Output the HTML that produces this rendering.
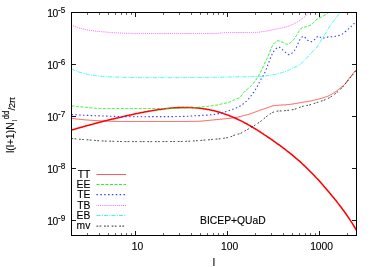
<!DOCTYPE html>
<html><head><meta charset="utf-8"><title>plot</title>
<style>html,body{margin:0;padding:0;background:#fff;width:374px;height:267px;overflow:hidden;font-family:"Liberation Sans",sans-serif}</style></head>
<body>
<svg width="374" height="267" viewBox="0 0 374 267" style="position:absolute;left:0;top:0;will-change:transform">
<rect width="374" height="267" fill="#fff"/>
<clipPath id="c"><rect x="71" y="12" width="286" height="224"/></clipPath>
<g fill="none" clip-path="url(#c)" stroke-linejoin="round">
<path d="M71.5,130.1 L72.5,129.8 L73.5,129.5 L74.5,129.2 L75.5,128.9 L76.5,128.6 L77.5,128.3 L78.5,128.1 L79.5,127.8 L80.5,127.5 L81.5,127.2 L82.5,126.9 L83.5,126.6 L84.5,126.4 L85.5,126.1 L86.5,125.8 L87.5,125.5 L88.5,125.3 L89.5,125.0 L90.5,124.7 L91.5,124.4 L92.5,124.2 L93.5,123.9 L94.5,123.6 L95.5,123.4 L96.5,123.1 L97.5,122.9 L98.5,122.6 L99.5,122.3 L100.5,122.1 L101.5,121.8 L102.5,121.6 L103.5,121.3 L104.5,121.1 L105.5,120.8 L106.5,120.6 L107.5,120.3 L108.5,120.1 L109.5,119.8 L110.5,119.6 L111.5,119.3 L112.5,119.1 L113.5,118.9 L114.5,118.6 L115.5,118.4 L116.5,118.1 L117.5,117.9 L118.5,117.7 L119.5,117.4 L120.5,117.2 L121.5,117.0 L122.5,116.7 L123.5,116.5 L124.5,116.3 L125.5,116.0 L126.5,115.8 L127.5,115.6 L128.5,115.4 L129.5,115.1 L130.5,114.9 L131.5,114.7 L132.5,114.5 L133.5,114.3 L134.5,114.1 L135.5,113.8 L136.5,113.6 L137.5,113.4 L138.5,113.2 L139.5,113.0 L140.5,112.8 L141.5,112.6 L142.5,112.4 L143.5,112.2 L144.5,112.0 L145.5,111.8 L146.5,111.7 L147.5,111.5 L148.5,111.3 L149.5,111.1 L150.5,110.9 L151.5,110.8 L152.5,110.6 L153.5,110.4 L154.5,110.3 L155.5,110.1 L156.5,109.9 L157.5,109.8 L158.5,109.6 L159.5,109.5 L160.5,109.4 L161.5,109.2 L162.5,109.1 L163.5,109.0 L164.5,108.8 L165.5,108.7 L166.5,108.6 L167.5,108.5 L168.5,108.4 L169.5,108.3 L170.5,108.2 L171.5,108.1 L172.5,108.0 L173.5,107.9 L174.5,107.8 L175.5,107.8 L176.5,107.7 L177.5,107.6 L178.5,107.6 L179.5,107.6 L180.5,107.5 L181.5,107.5 L182.5,107.5 L183.5,107.4 L184.5,107.4 L185.5,107.4 L186.5,107.4 L187.5,107.4 L188.5,107.5 L189.5,107.5 L190.5,107.5 L191.5,107.6 L192.5,107.6 L193.5,107.7 L194.5,107.7 L195.5,107.8 L196.5,107.9 L197.5,108.0 L198.5,108.1 L199.5,108.2 L200.5,108.3 L201.5,108.4 L202.5,108.6 L203.5,108.7 L204.5,108.9 L205.5,109.0 L206.5,109.2 L207.5,109.4 L208.5,109.6 L209.5,109.8 L210.5,110.0 L211.5,110.2 L212.5,110.4 L213.5,110.6 L214.5,110.9 L215.5,111.1 L216.5,111.4 L217.5,111.7 L218.5,112.0 L219.5,112.3 L220.5,112.6 L221.5,112.9 L222.5,113.2 L223.5,113.5 L224.5,113.9 L225.5,114.2 L226.5,114.6 L227.5,115.0 L228.5,115.3 L229.5,115.7 L230.5,116.1 L231.5,116.5 L232.5,117.0 L233.5,117.4 L234.5,117.8 L235.5,118.3 L236.5,118.7 L237.5,119.2 L238.5,119.7 L239.5,120.1 L240.5,120.6 L241.5,121.1 L242.5,121.6 L243.5,122.1 L244.5,122.7 L245.5,123.2 L246.5,123.8 L247.5,124.3 L248.5,124.9 L249.5,125.4 L250.5,126.0 L251.5,126.6 L252.5,127.2 L253.5,127.8 L254.5,128.4 L255.5,129.0 L256.5,129.6 L257.5,130.2 L258.5,130.9 L259.5,131.5 L260.5,132.1 L261.5,132.8 L262.5,133.4 L263.5,134.1 L264.5,134.8 L265.5,135.4 L266.5,136.1 L267.5,136.8 L268.5,137.5 L269.5,138.2 L270.5,138.9 L271.5,139.5 L272.5,140.2 L273.5,141.0 L274.5,141.7 L275.5,142.4 L276.5,143.1 L277.5,143.8 L278.5,144.5 L279.5,145.2 L280.5,146.0 L281.5,146.7 L282.5,147.5 L283.5,148.2 L284.5,148.9 L285.5,149.7 L286.5,150.5 L287.5,151.3 L288.5,152.0 L289.5,152.8 L290.5,153.6 L291.5,154.4 L292.5,155.2 L293.5,156.1 L294.5,156.9 L295.5,157.8 L296.5,158.6 L297.5,159.5 L298.5,160.4 L299.5,161.2 L300.5,162.1 L301.5,163.0 L302.5,164.0 L303.5,164.9 L304.5,165.8 L305.5,166.8 L306.5,167.7 L307.5,168.7 L308.5,169.7 L309.5,170.7 L310.5,171.7 L311.5,172.7 L312.5,173.7 L313.5,174.8 L314.5,175.8 L315.5,176.9 L316.5,178.0 L317.5,179.0 L318.5,180.1 L319.5,181.2 L320.5,182.3 L321.5,183.5 L322.5,184.6 L323.5,185.7 L324.5,186.9 L325.5,188.0 L326.5,189.2 L327.5,190.4 L328.5,191.6 L329.5,192.8 L330.5,194.0 L331.5,195.2 L332.5,196.4 L333.5,197.6 L334.5,198.8 L335.5,200.1 L336.5,201.3 L337.5,202.6 L338.5,203.9 L339.5,205.2 L340.5,206.5 L341.5,207.8 L342.5,209.2 L343.5,210.5 L344.5,211.9 L345.5,213.3 L346.5,214.7 L347.5,216.1 L348.5,217.6 L349.5,219.1 L350.5,220.6 L351.5,222.1 L352.5,223.7 L353.5,225.3 L354.5,227.0 L355.5,228.7 L356.5,230.4" stroke="#ff0000" stroke-width="1.55"/>
<path d="M71.5,118.2 L72.5,118.4 L73.5,118.5 L74.5,118.7 L75.5,118.8 L76.5,119.0 L77.5,119.1 L78.5,119.2 L79.5,119.3 L80.5,119.5 L81.5,119.5 L82.5,119.6 L83.5,119.7 L84.5,119.8 L85.5,119.9 L86.5,120.0 L87.5,120.0 L88.5,120.1 L89.5,120.2 L90.5,120.3 L91.5,120.3 L92.5,120.4 L93.5,120.5 L94.5,120.5 L95.5,120.6 L96.5,120.6 L97.5,120.7 L98.5,120.7 L99.5,120.8 L100.5,120.8 L101.5,120.9 L102.5,120.9 L103.5,121.0 L104.5,121.0 L105.5,121.1 L106.5,121.1 L107.5,121.1 L108.5,121.2 L109.5,121.2 L110.5,121.3 L111.5,121.3 L112.5,121.3 L113.5,121.4 L114.5,121.4 L115.5,121.4 L116.5,121.5 L117.5,121.5 L118.5,121.5 L119.5,121.5 L120.5,121.5 L121.5,121.5 L122.5,121.5 L123.5,121.5 L124.5,121.5 L125.5,121.5 L126.5,121.5 L127.5,121.5 L128.5,121.5 L129.5,121.5 L130.5,121.5 L131.5,121.5 L132.5,121.5 L133.5,121.5 L134.5,121.5 L135.5,121.5 L136.5,121.5 L137.5,121.5 L138.5,121.5 L139.5,121.5 L140.5,121.5 L141.5,121.5 L142.5,121.5 L143.5,121.5 L144.5,121.5 L145.5,121.5 L146.5,121.5 L147.5,121.5 L148.5,121.5 L149.5,121.5 L150.5,121.5 L151.5,121.5 L152.5,121.5 L153.5,121.5 L154.5,121.5 L155.5,121.5 L156.5,121.5 L157.5,121.5 L158.5,121.5 L159.5,121.5 L160.5,121.5 L161.5,121.5 L162.5,121.5 L163.5,121.5 L164.5,121.5 L165.5,121.5 L166.5,121.5 L167.5,121.5 L168.5,121.5 L169.5,121.5 L170.5,121.5 L171.5,121.5 L172.5,121.5 L173.5,121.5 L174.5,121.5 L175.5,121.5 L176.5,121.5 L177.5,121.5 L178.5,121.5 L179.5,121.5 L180.5,121.5 L181.5,121.5 L182.5,121.5 L183.5,121.5 L184.5,121.5 L185.5,121.5 L186.5,121.5 L187.5,121.5 L188.5,121.4 L189.5,121.4 L190.5,121.4 L191.5,121.4 L192.5,121.4 L193.5,121.4 L194.5,121.3 L195.5,121.3 L196.5,121.3 L197.5,121.3 L198.5,121.3 L199.5,121.2 L200.5,121.1 L201.5,121.1 L202.5,121.0 L203.5,120.9 L204.5,120.8 L205.5,120.7 L206.5,120.6 L207.5,120.5 L208.5,120.4 L209.5,120.3 L210.5,120.2 L211.5,120.1 L212.5,120.0 L213.5,119.9 L214.5,119.8 L215.5,119.7 L216.5,119.6 L217.5,119.5 L218.5,119.4 L219.5,119.3 L220.5,119.2 L221.5,119.2 L222.5,119.0 L223.5,118.9 L224.5,118.8 L225.5,118.7 L226.5,118.6 L227.5,118.5 L228.5,118.4 L229.5,118.3 L230.5,118.2 L231.5,118.1 L232.5,118.0 L233.5,117.9 L234.5,117.8 L235.5,117.6 L236.5,117.4 L237.5,117.2 L238.5,117.0 L239.5,116.7 L240.5,116.5 L241.5,116.2 L242.5,115.9 L243.5,115.7 L244.5,115.4 L245.5,115.1 L246.5,114.9 L247.5,114.6 L248.5,114.3 L249.5,114.0 L250.5,113.7 L251.5,113.3 L252.5,113.0 L253.5,112.6 L254.5,112.3 L255.5,111.9 L256.5,111.5 L257.5,111.1 L258.5,110.8 L259.5,110.4 L260.5,110.0 L261.5,109.7 L262.5,109.3 L263.5,109.0 L264.5,108.7 L265.5,108.4 L266.5,108.0 L267.5,107.7 L268.5,107.4 L269.5,107.0 L270.5,106.6 L271.5,106.2 L272.5,105.9 L273.5,105.7 L274.5,105.6 L275.5,105.5 L276.5,105.4 L277.5,105.3 L278.5,105.2 L279.5,105.2 L280.5,105.1 L281.5,105.0 L282.5,105.0 L283.5,104.9 L284.5,104.9 L285.5,104.8 L286.5,104.7 L287.5,104.6 L288.5,104.5 L289.5,104.4 L290.5,104.3 L291.5,104.2 L292.5,104.0 L293.5,103.9 L294.5,103.7 L295.5,103.6 L296.5,103.4 L297.5,103.2 L298.5,103.0 L299.5,102.8 L300.5,102.6 L301.5,102.5 L302.5,102.3 L303.5,102.1 L304.5,102.0 L305.5,101.8 L306.5,101.7 L307.5,101.5 L308.5,101.3 L309.5,101.2 L310.5,101.0 L311.5,100.8 L312.5,100.5 L313.5,100.3 L314.5,100.1 L315.5,99.8 L316.5,99.6 L317.5,99.3 L318.5,99.1 L319.5,98.8 L320.5,98.5 L321.5,98.3 L322.5,98.0 L323.5,97.7 L324.5,97.4 L325.5,97.0 L326.5,96.7 L327.5,96.3 L328.5,95.9 L329.5,95.4 L330.5,94.8 L331.5,94.3 L332.5,93.7 L333.5,93.1 L334.5,92.4 L335.5,91.8 L336.5,91.1 L337.5,90.3 L338.5,89.5 L339.5,88.7 L340.5,87.9 L341.5,87.1 L342.5,86.3 L343.5,85.5 L344.5,84.5 L345.5,83.3 L346.5,81.9 L347.5,80.5 L348.5,79.2 L349.5,78.0 L350.5,76.7 L351.5,75.5 L352.5,74.3 L353.5,73.1 L354.5,71.9 L355.5,70.7 L356.5,69.5" stroke="#ff0000" stroke-width="0.65"/>
<path d="M71.5,105.9 L72.5,106.0 L73.5,106.1 L74.5,106.2 L75.5,106.3 L76.5,106.5 L77.5,106.6 L78.5,106.7 L79.5,106.7 L80.5,106.8 L81.5,106.9 L82.5,107.0 L83.5,107.1 L84.5,107.2 L85.5,107.3 L86.5,107.4 L87.5,107.4 L88.5,107.6 L89.5,107.7 L90.5,107.8 L91.5,107.9 L92.5,108.0 L93.5,108.1 L94.5,108.2 L95.5,108.3 L96.5,108.3 L97.5,108.3 L98.5,108.4 L99.5,108.4 L100.5,108.4 L101.5,108.4 L102.5,108.4 L103.5,108.5 L104.5,108.5 L105.5,108.5 L106.5,108.5 L107.5,108.5 L108.5,108.5 L109.5,108.5 L110.5,108.5 L111.5,108.5 L112.5,108.5 L113.5,108.5 L114.5,108.5 L115.5,108.5 L116.5,108.5 L117.5,108.5 L118.5,108.5 L119.5,108.5 L120.5,108.5 L121.5,108.5 L122.5,108.5 L123.5,108.5 L124.5,108.5 L125.5,108.5 L126.5,108.5 L127.5,108.5 L128.5,108.5 L129.5,108.5 L130.5,108.5 L131.5,108.5 L132.5,108.5 L133.5,108.5 L134.5,108.5 L135.5,108.5 L136.5,108.5 L137.5,108.5 L138.5,108.5 L139.5,108.5 L140.5,108.5 L141.5,108.5 L142.5,108.5 L143.5,108.5 L144.5,108.5 L145.5,108.5 L146.5,108.5 L147.5,108.5 L148.5,108.5 L149.5,108.5 L150.5,108.5 L151.5,108.5 L152.5,108.5 L153.5,108.5 L154.5,108.5 L155.5,108.5 L156.5,108.5 L157.5,108.5 L158.5,108.5 L159.5,108.5 L160.5,108.5 L161.5,108.5 L162.5,108.5 L163.5,108.5 L164.5,108.5 L165.5,108.5 L166.5,108.5 L167.5,108.5 L168.5,108.4 L169.5,108.4 L170.5,108.4 L171.5,108.4 L172.5,108.4 L173.5,108.4 L174.5,108.4 L175.5,108.3 L176.5,108.3 L177.5,108.3 L178.5,108.3 L179.5,108.2 L180.5,108.2 L181.5,108.2 L182.5,108.2 L183.5,108.1 L184.5,108.1 L185.5,108.1 L186.5,108.0 L187.5,108.0 L188.5,107.9 L189.5,107.9 L190.5,107.8 L191.5,107.7 L192.5,107.7 L193.5,107.6 L194.5,107.5 L195.5,107.4 L196.5,107.3 L197.5,107.3 L198.5,107.2 L199.5,107.1 L200.5,107.0 L201.5,106.9 L202.5,106.8 L203.5,106.8 L204.5,106.7 L205.5,106.6 L206.5,106.5 L207.5,106.4 L208.5,106.3 L209.5,106.1 L210.5,106.0 L211.5,105.9 L212.5,105.8 L213.5,105.6 L214.5,105.5 L215.5,105.3 L216.5,105.1 L217.5,104.9 L218.5,104.7 L219.5,104.5 L220.5,104.2 L221.5,104.0 L222.5,103.8 L223.5,103.6 L224.5,103.3 L225.5,103.1 L226.5,102.9 L227.5,102.6 L228.5,102.4 L229.5,102.1 L230.5,101.7 L231.5,101.3 L232.5,100.8 L233.5,100.3 L234.5,99.7 L235.5,99.3 L236.5,98.9 L237.5,98.5 L238.5,98.1 L239.5,97.6 L240.5,96.9 L241.5,95.6 L242.5,94.1 L243.5,92.8 L244.5,91.8 L245.5,90.8 L246.5,89.9 L247.5,89.1 L248.5,88.2 L249.5,87.4 L250.5,86.5 L251.5,85.4 L252.5,84.3 L253.5,83.1 L254.5,81.7 L255.5,80.3 L256.5,78.9 L257.5,77.4 L258.5,75.8 L259.5,74.1 L260.5,72.3 L261.5,70.3 L262.5,68.1 L263.5,65.9 L264.5,63.7 L265.5,61.6 L266.5,59.5 L267.5,57.5 L268.5,55.3 L269.5,52.7 L270.5,50.0 L271.5,47.7 L272.5,45.7 L273.5,44.0 L274.5,42.8 L275.5,41.9 L276.5,41.1 L277.5,40.7 L278.5,40.8 L279.5,41.0 L280.5,41.4 L281.5,41.8 L282.5,42.2 L283.5,42.7 L284.5,43.3 L285.5,43.8 L286.5,44.2 L287.5,44.2 L288.5,43.8 L289.5,43.3 L290.5,42.6 L291.5,41.8 L292.5,40.9 L293.5,39.7 L294.5,38.4 L295.5,37.0 L296.5,35.4 L297.5,33.6 L298.5,31.8 L299.5,30.4 L300.5,29.1 L301.5,28.0 L302.5,27.5 L303.5,27.2 L304.5,27.0 L305.5,26.9 L306.5,26.6 L307.5,26.3 L308.5,26.0 L309.5,25.6 L310.5,25.1 L311.5,24.5 L312.5,23.5 L313.5,22.5 L314.5,21.5 L315.5,20.5 L316.5,19.6 L317.5,18.9 L318.5,18.4 L319.5,17.9 L320.5,17.3 L321.5,16.8 L322.5,16.3 L323.5,15.8 L324.5,15.3 L325.5,14.7 L326.5,14.0 L327.5,13.3 L328.5,12.5" stroke="#10f410" stroke-width="0.9" stroke-dasharray="3 1.5"/>
<path d="M71.5,114.5 L72.5,114.6 L73.5,114.6 L74.5,114.7 L75.5,114.8 L76.5,114.8 L77.5,114.9 L78.5,115.0 L79.5,115.0 L80.5,115.1 L81.5,115.1 L82.5,115.2 L83.5,115.2 L84.5,115.3 L85.5,115.3 L86.5,115.4 L87.5,115.4 L88.5,115.5 L89.5,115.5 L90.5,115.5 L91.5,115.6 L92.5,115.6 L93.5,115.7 L94.5,115.7 L95.5,115.7 L96.5,115.8 L97.5,115.8 L98.5,115.8 L99.5,115.9 L100.5,115.9 L101.5,115.9 L102.5,116.0 L103.5,116.0 L104.5,116.0 L105.5,116.0 L106.5,116.1 L107.5,116.1 L108.5,116.2 L109.5,116.2 L110.5,116.2 L111.5,116.3 L112.5,116.3 L113.5,116.3 L114.5,116.4 L115.5,116.4 L116.5,116.4 L117.5,116.5 L118.5,116.5 L119.5,116.5 L120.5,116.6 L121.5,116.6 L122.5,116.6 L123.5,116.6 L124.5,116.7 L125.5,116.7 L126.5,116.7 L127.5,116.7 L128.5,116.7 L129.5,116.7 L130.5,116.7 L131.5,116.7 L132.5,116.7 L133.5,116.7 L134.5,116.7 L135.5,116.7 L136.5,116.7 L137.5,116.7 L138.5,116.7 L139.5,116.7 L140.5,116.7 L141.5,116.7 L142.5,116.7 L143.5,116.7 L144.5,116.7 L145.5,116.7 L146.5,116.7 L147.5,116.7 L148.5,116.6 L149.5,116.6 L150.5,116.6 L151.5,116.6 L152.5,116.6 L153.5,116.6 L154.5,116.6 L155.5,116.6 L156.5,116.6 L157.5,116.6 L158.5,116.6 L159.5,116.6 L160.5,116.6 L161.5,116.6 L162.5,116.6 L163.5,116.6 L164.5,116.6 L165.5,116.6 L166.5,116.6 L167.5,116.6 L168.5,116.6 L169.5,116.6 L170.5,116.6 L171.5,116.6 L172.5,116.6 L173.5,116.5 L174.5,116.5 L175.5,116.5 L176.5,116.5 L177.5,116.5 L178.5,116.5 L179.5,116.5 L180.5,116.5 L181.5,116.5 L182.5,116.5 L183.5,116.4 L184.5,116.4 L185.5,116.3 L186.5,116.3 L187.5,116.3 L188.5,116.2 L189.5,116.1 L190.5,116.1 L191.5,116.0 L192.5,116.0 L193.5,115.9 L194.5,115.8 L195.5,115.8 L196.5,115.7 L197.5,115.7 L198.5,115.6 L199.5,115.6 L200.5,115.5 L201.5,115.4 L202.5,115.4 L203.5,115.3 L204.5,115.3 L205.5,115.2 L206.5,115.1 L207.5,115.1 L208.5,115.0 L209.5,114.9 L210.5,114.8 L211.5,114.7 L212.5,114.6 L213.5,114.5 L214.5,114.4 L215.5,114.2 L216.5,114.1 L217.5,113.9 L218.5,113.6 L219.5,113.4 L220.5,113.2 L221.5,112.9 L222.5,112.7 L223.5,112.4 L224.5,112.1 L225.5,111.8 L226.5,111.5 L227.5,111.2 L228.5,110.8 L229.5,110.5 L230.5,110.1 L231.5,109.8 L232.5,109.4 L233.5,109.0 L234.5,108.7 L235.5,108.3 L236.5,107.8 L237.5,107.4 L238.5,106.9 L239.5,106.4 L240.5,105.8 L241.5,105.2 L242.5,104.5 L243.5,103.7 L244.5,102.9 L245.5,102.0 L246.5,101.1 L247.5,100.1 L248.5,99.0 L249.5,97.9 L250.5,96.6 L251.5,95.2 L252.5,93.8 L253.5,92.4 L254.5,91.0 L255.5,89.5 L256.5,87.8 L257.5,85.9 L258.5,83.8 L259.5,81.8 L260.5,80.0 L261.5,78.4 L262.5,76.9 L263.5,75.3 L264.5,73.4 L265.5,71.0 L266.5,68.4 L267.5,65.7 L268.5,63.1 L269.5,60.6 L270.5,58.0 L271.5,55.6 L272.5,53.6 L273.5,51.7 L274.5,50.2 L275.5,49.1 L276.5,48.2 L277.5,47.4 L278.5,47.1 L279.5,47.3 L280.5,48.0 L281.5,48.8 L282.5,49.7 L283.5,50.5 L284.5,51.4 L285.5,52.4 L286.5,53.4 L287.5,54.2 L288.5,54.6 L289.5,54.6 L290.5,54.3 L291.5,53.6 L292.5,52.7 L293.5,51.6 L294.5,50.5 L295.5,49.0 L296.5,46.9 L297.5,44.8 L298.5,42.6 L299.5,40.4 L300.5,38.6 L301.5,37.5 L302.5,36.6 L303.5,36.3 L304.5,37.0 L305.5,38.0 L306.5,39.0 L307.5,40.0 L308.5,41.0 L309.5,41.6 L310.5,41.7 L311.5,41.6 L312.5,41.3 L313.5,40.9 L314.5,39.7 L315.5,38.3 L316.5,37.4 L317.5,36.5 L318.5,36.1 L319.5,36.5 L320.5,37.4 L321.5,38.2 L322.5,38.3 L323.5,38.0 L324.5,37.7 L325.5,37.4 L326.5,37.2 L327.5,37.1 L328.5,37.0 L329.5,37.0 L330.5,36.9 L331.5,36.8 L332.5,36.7 L333.5,36.6 L334.5,36.5 L335.5,36.3 L336.5,36.1 L337.5,35.9 L338.5,35.6 L339.5,35.3 L340.5,35.0 L341.5,34.5 L342.5,33.9 L343.5,33.2 L344.5,32.3 L345.5,31.5 L346.5,30.7 L347.5,29.8 L348.5,28.9 L349.5,27.9 L350.5,27.0 L351.5,26.1 L352.5,25.1 L353.5,24.1 L354.5,23.2 L355.5,22.2 L356.5,21.2" stroke="#3838ff" stroke-width="1.1" stroke-dasharray="1.45 2.4"/>
<path d="M71.5,25.2 L72.5,25.6 L73.5,26.0 L74.5,26.4 L75.5,26.8 L76.5,27.1 L77.5,27.4 L78.5,27.7 L79.5,28.0 L80.5,28.3 L81.5,28.6 L82.5,28.9 L83.5,29.1 L84.5,29.4 L85.5,29.6 L86.5,29.8 L87.5,30.0 L88.5,30.2 L89.5,30.3 L90.5,30.5 L91.5,30.6 L92.5,30.8 L93.5,30.9 L94.5,31.0 L95.5,31.1 L96.5,31.3 L97.5,31.4 L98.5,31.4 L99.5,31.5 L100.5,31.6 L101.5,31.7 L102.5,31.8 L103.5,31.9 L104.5,31.9 L105.5,32.0 L106.5,32.1 L107.5,32.2 L108.5,32.3 L109.5,32.4 L110.5,32.4 L111.5,32.5 L112.5,32.6 L113.5,32.7 L114.5,32.7 L115.5,32.8 L116.5,32.8 L117.5,32.9 L118.5,32.9 L119.5,33.0 L120.5,33.0 L121.5,33.1 L122.5,33.1 L123.5,33.2 L124.5,33.2 L125.5,33.2 L126.5,33.3 L127.5,33.3 L128.5,33.3 L129.5,33.3 L130.5,33.3 L131.5,33.3 L132.5,33.3 L133.5,33.4 L134.5,33.4 L135.5,33.4 L136.5,33.4 L137.5,33.4 L138.5,33.4 L139.5,33.4 L140.5,33.4 L141.5,33.4 L142.5,33.4 L143.5,33.4 L144.5,33.4 L145.5,33.5 L146.5,33.5 L147.5,33.5 L148.5,33.5 L149.5,33.5 L150.5,33.5 L151.5,33.5 L152.5,33.5 L153.5,33.5 L154.5,33.5 L155.5,33.5 L156.5,33.5 L157.5,33.5 L158.5,33.5 L159.5,33.5 L160.5,33.5 L161.5,33.5 L162.5,33.5 L163.5,33.5 L164.5,33.5 L165.5,33.5 L166.5,33.5 L167.5,33.5 L168.5,33.5 L169.5,33.5 L170.5,33.5 L171.5,33.5 L172.5,33.5 L173.5,33.5 L174.5,33.5 L175.5,33.5 L176.5,33.5 L177.5,33.5 L178.5,33.5 L179.5,33.5 L180.5,33.5 L181.5,33.5 L182.5,33.5 L183.5,33.5 L184.5,33.5 L185.5,33.5 L186.5,33.5 L187.5,33.5 L188.5,33.5 L189.5,33.5 L190.5,33.5 L191.5,33.5 L192.5,33.5 L193.5,33.5 L194.5,33.5 L195.5,33.5 L196.5,33.5 L197.5,33.5 L198.5,33.5 L199.5,33.5 L200.5,33.5 L201.5,33.5 L202.5,33.5 L203.5,33.5 L204.5,33.5 L205.5,33.5 L206.5,33.5 L207.5,33.5 L208.5,33.5 L209.5,33.5 L210.5,33.5 L211.5,33.5 L212.5,33.5 L213.5,33.5 L214.5,33.5 L215.5,33.5 L216.5,33.4 L217.5,33.4 L218.5,33.3 L219.5,33.1 L220.5,33.0 L221.5,32.9 L222.5,32.8 L223.5,32.7 L224.5,32.6 L225.5,32.6 L226.5,32.6 L227.5,32.6 L228.5,32.6 L229.5,32.5 L230.5,32.5 L231.5,32.5 L232.5,32.5 L233.5,32.5 L234.5,32.5 L235.5,32.5 L236.5,32.5 L237.5,32.5 L238.5,32.5 L239.5,32.5 L240.5,32.5 L241.5,32.5 L242.5,32.5 L243.5,32.5 L244.5,32.5 L245.5,32.5 L246.5,32.5 L247.5,32.5 L248.5,32.5 L249.5,32.5 L250.5,32.5 L251.5,32.4 L252.5,32.4 L253.5,32.4 L254.5,32.4 L255.5,32.4 L256.5,32.3 L257.5,32.3 L258.5,32.2 L259.5,32.1 L260.5,32.0 L261.5,31.8 L262.5,31.7 L263.5,31.6 L264.5,31.4 L265.5,31.3 L266.5,31.1 L267.5,30.9 L268.5,30.6 L269.5,30.4 L270.5,30.2 L271.5,30.0 L272.5,29.8 L273.5,29.6 L274.5,29.4 L275.5,29.2 L276.5,29.0 L277.5,28.8 L278.5,28.6 L279.5,28.4 L280.5,28.2 L281.5,27.9 L282.5,27.7 L283.5,27.5 L284.5,27.2 L285.5,27.0 L286.5,26.7 L287.5,26.4 L288.5,26.1 L289.5,25.7 L290.5,25.3 L291.5,24.9 L292.5,24.4 L293.5,24.0 L294.5,23.5 L295.5,22.9 L296.5,22.4 L297.5,21.8 L298.5,21.2 L299.5,20.6 L300.5,19.9 L301.5,19.2 L302.5,18.4 L303.5,17.7 L304.5,16.9 L305.5,16.0 L306.5,15.0 L307.5,13.9 L308.5,12.7 L308.7,12.5" stroke="#ff00ff" stroke-width="0.65" stroke-dasharray="1 1.08" stroke-dashoffset="0.5"/>
<path d="M71.5,68.9 L72.5,69.4 L73.5,69.8 L74.5,70.3 L75.5,70.7 L76.5,71.1 L77.5,71.5 L78.5,71.8 L79.5,72.2 L80.5,72.5 L81.5,72.8 L82.5,73.1 L83.5,73.4 L84.5,73.7 L85.5,74.0 L86.5,74.2 L87.5,74.4 L88.5,74.6 L89.5,74.8 L90.5,74.9 L91.5,75.1 L92.5,75.2 L93.5,75.4 L94.5,75.5 L95.5,75.6 L96.5,75.8 L97.5,75.9 L98.5,76.0 L99.5,76.1 L100.5,76.2 L101.5,76.3 L102.5,76.4 L103.5,76.5 L104.5,76.5 L105.5,76.6 L106.5,76.7 L107.5,76.7 L108.5,76.8 L109.5,76.8 L110.5,76.9 L111.5,76.9 L112.5,77.0 L113.5,77.0 L114.5,77.0 L115.5,77.1 L116.5,77.1 L117.5,77.2 L118.5,77.2 L119.5,77.2 L120.5,77.3 L121.5,77.3 L122.5,77.4 L123.5,77.4 L124.5,77.4 L125.5,77.4 L126.5,77.5 L127.5,77.5 L128.5,77.5 L129.5,77.5 L130.5,77.5 L131.5,77.5 L132.5,77.5 L133.5,77.5 L134.5,77.5 L135.5,77.5 L136.5,77.5 L137.5,77.5 L138.5,77.6 L139.5,77.6 L140.5,77.6 L141.5,77.6 L142.5,77.6 L143.5,77.6 L144.5,77.6 L145.5,77.6 L146.5,77.6 L147.5,77.6 L148.5,77.6 L149.5,77.6 L150.5,77.6 L151.5,77.6 L152.5,77.6 L153.5,77.6 L154.5,77.6 L155.5,77.6 L156.5,77.6 L157.5,77.6 L158.5,77.6 L159.5,77.6 L160.5,77.6 L161.5,77.6 L162.5,77.6 L163.5,77.6 L164.5,77.6 L165.5,77.6 L166.5,77.6 L167.5,77.6 L168.5,77.6 L169.5,77.6 L170.5,77.6 L171.5,77.6 L172.5,77.6 L173.5,77.6 L174.5,77.6 L175.5,77.6 L176.5,77.6 L177.5,77.6 L178.5,77.6 L179.5,77.6 L180.5,77.6 L181.5,77.6 L182.5,77.6 L183.5,77.6 L184.5,77.6 L185.5,77.6 L186.5,77.6 L187.5,77.5 L188.5,77.5 L189.5,77.5 L190.5,77.5 L191.5,77.5 L192.5,77.5 L193.5,77.5 L194.5,77.5 L195.5,77.5 L196.5,77.5 L197.5,77.5 L198.5,77.5 L199.5,77.5 L200.5,77.5 L201.5,77.5 L202.5,77.5 L203.5,77.5 L204.5,77.5 L205.5,77.5 L206.5,77.4 L207.5,77.4 L208.5,77.4 L209.5,77.4 L210.5,77.4 L211.5,77.4 L212.5,77.4 L213.5,77.3 L214.5,77.3 L215.5,77.3 L216.5,77.3 L217.5,77.3 L218.5,77.2 L219.5,77.2 L220.5,77.2 L221.5,77.2 L222.5,77.2 L223.5,77.1 L224.5,77.1 L225.5,77.1 L226.5,77.1 L227.5,77.1 L228.5,77.0 L229.5,77.0 L230.5,77.0 L231.5,77.0 L232.5,76.9 L233.5,76.9 L234.5,76.9 L235.5,76.9 L236.5,76.9 L237.5,76.9 L238.5,76.8 L239.5,76.8 L240.5,76.8 L241.5,76.8 L242.5,76.8 L243.5,76.8 L244.5,76.8 L245.5,76.7 L246.5,76.7 L247.5,76.7 L248.5,76.7 L249.5,76.7 L250.5,76.7 L251.5,76.6 L252.5,76.6 L253.5,76.6 L254.5,76.6 L255.5,76.5 L256.5,76.5 L257.5,76.5 L258.5,76.5 L259.5,76.4 L260.5,76.4 L261.5,76.3 L262.5,76.3 L263.5,76.2 L264.5,76.1 L265.5,76.0 L266.5,75.9 L267.5,75.7 L268.5,75.6 L269.5,75.5 L270.5,75.3 L271.5,75.1 L272.5,74.9 L273.5,74.7 L274.5,74.5 L275.5,74.3 L276.5,74.0 L277.5,73.8 L278.5,73.5 L279.5,73.3 L280.5,73.0 L281.5,72.8 L282.5,72.5 L283.5,72.2 L284.5,71.9 L285.5,71.5 L286.5,71.1 L287.5,70.7 L288.5,70.2 L289.5,69.7 L290.5,69.3 L291.5,68.8 L292.5,68.3 L293.5,67.8 L294.5,67.4 L295.5,66.9 L296.5,66.4 L297.5,65.9 L298.5,65.3 L299.5,64.7 L300.5,64.0 L301.5,63.2 L302.5,62.2 L303.5,61.2 L304.5,60.2 L305.5,59.2 L306.5,58.2 L307.5,57.1 L308.5,56.0 L309.5,54.9 L310.5,53.8 L311.5,52.7 L312.5,51.6 L313.5,50.5 L314.5,49.5 L315.5,48.6 L316.5,47.6 L317.5,46.3 L318.5,44.8 L319.5,43.0 L320.5,41.3 L321.5,39.5 L322.5,37.9 L323.5,36.4 L324.5,34.8 L325.5,33.3 L326.5,31.7 L327.5,30.0 L328.5,28.3 L329.5,26.8 L330.5,25.3 L331.5,23.9 L332.5,22.6 L333.5,21.3 L334.5,19.9 L335.5,18.5 L336.5,17.1 L337.5,15.7 L338.5,14.5 L339.5,13.4 L340.3,12.5" stroke="#00f8f8" stroke-width="0.8" stroke-dasharray="4 1.4 1 1.1"/>
<path d="M71.5,138.5 L72.5,138.6 L73.5,138.7 L74.5,138.8 L75.5,138.9 L76.5,139.0 L77.5,139.1 L78.5,139.2 L79.5,139.2 L80.5,139.3 L81.5,139.4 L82.5,139.5 L83.5,139.5 L84.5,139.6 L85.5,139.7 L86.5,139.8 L87.5,139.8 L88.5,139.9 L89.5,140.0 L90.5,140.1 L91.5,140.2 L92.5,140.2 L93.5,140.3 L94.5,140.4 L95.5,140.5 L96.5,140.5 L97.5,140.6 L98.5,140.7 L99.5,140.7 L100.5,140.8 L101.5,140.9 L102.5,140.9 L103.5,141.0 L104.5,141.0 L105.5,141.1 L106.5,141.1 L107.5,141.1 L108.5,141.2 L109.5,141.2 L110.5,141.2 L111.5,141.3 L112.5,141.3 L113.5,141.3 L114.5,141.4 L115.5,141.4 L116.5,141.4 L117.5,141.4 L118.5,141.5 L119.5,141.5 L120.5,141.5 L121.5,141.5 L122.5,141.5 L123.5,141.6 L124.5,141.6 L125.5,141.6 L126.5,141.6 L127.5,141.6 L128.5,141.6 L129.5,141.6 L130.5,141.6 L131.5,141.6 L132.5,141.6 L133.5,141.6 L134.5,141.6 L135.5,141.6 L136.5,141.6 L137.5,141.6 L138.5,141.6 L139.5,141.6 L140.5,141.6 L141.5,141.6 L142.5,141.6 L143.5,141.6 L144.5,141.6 L145.5,141.6 L146.5,141.6 L147.5,141.6 L148.5,141.6 L149.5,141.6 L150.5,141.6 L151.5,141.6 L152.5,141.6 L153.5,141.6 L154.5,141.6 L155.5,141.6 L156.5,141.6 L157.5,141.6 L158.5,141.6 L159.5,141.6 L160.5,141.6 L161.5,141.6 L162.5,141.6 L163.5,141.6 L164.5,141.6 L165.5,141.6 L166.5,141.5 L167.5,141.5 L168.5,141.5 L169.5,141.5 L170.5,141.5 L171.5,141.5 L172.5,141.5 L173.5,141.5 L174.5,141.5 L175.5,141.5 L176.5,141.5 L177.5,141.5 L178.5,141.5 L179.5,141.5 L180.5,141.5 L181.5,141.5 L182.5,141.5 L183.5,141.4 L184.5,141.4 L185.5,141.4 L186.5,141.3 L187.5,141.3 L188.5,141.2 L189.5,141.2 L190.5,141.1 L191.5,141.0 L192.5,141.0 L193.5,140.9 L194.5,140.9 L195.5,140.8 L196.5,140.7 L197.5,140.7 L198.5,140.6 L199.5,140.5 L200.5,140.5 L201.5,140.4 L202.5,140.3 L203.5,140.2 L204.5,140.1 L205.5,140.0 L206.5,140.0 L207.5,139.9 L208.5,139.8 L209.5,139.7 L210.5,139.6 L211.5,139.5 L212.5,139.4 L213.5,139.3 L214.5,139.2 L215.5,139.1 L216.5,139.1 L217.5,139.0 L218.5,138.9 L219.5,138.8 L220.5,138.7 L221.5,138.6 L222.5,138.4 L223.5,138.3 L224.5,138.1 L225.5,138.0 L226.5,137.8 L227.5,137.6 L228.5,137.3 L229.5,137.1 L230.5,136.8 L231.5,136.5 L232.5,136.0 L233.5,135.5 L234.5,135.1 L235.5,134.7 L236.5,134.5 L237.5,134.2 L238.5,134.0 L239.5,133.7 L240.5,133.3 L241.5,132.8 L242.5,132.2 L243.5,131.6 L244.5,131.1 L245.5,130.6 L246.5,130.0 L247.5,129.5 L248.5,128.9 L249.5,128.4 L250.5,127.8 L251.5,127.2 L252.5,126.6 L253.5,126.0 L254.5,125.4 L255.5,124.8 L256.5,124.2 L257.5,123.5 L258.5,122.8 L259.5,122.2 L260.5,121.5 L261.5,120.7 L262.5,119.9 L263.5,119.1 L264.5,118.2 L265.5,117.4 L266.5,116.5 L267.5,115.8 L268.5,115.0 L269.5,114.3 L270.5,113.7 L271.5,113.0 L272.5,112.5 L273.5,112.1 L274.5,111.8 L275.5,111.5 L276.5,111.3 L277.5,111.1 L278.5,111.0 L279.5,111.0 L280.5,110.9 L281.5,110.9 L282.5,110.8 L283.5,110.8 L284.5,110.7 L285.5,110.6 L286.5,110.5 L287.5,110.4 L288.5,110.3 L289.5,110.2 L290.5,110.0 L291.5,109.8 L292.5,109.7 L293.5,109.5 L294.5,109.2 L295.5,108.9 L296.5,108.6 L297.5,108.2 L298.5,107.8 L299.5,107.4 L300.5,107.0 L301.5,106.7 L302.5,106.4 L303.5,106.2 L304.5,106.0 L305.5,105.8 L306.5,105.6 L307.5,105.4 L308.5,105.1 L309.5,104.9 L310.5,104.6 L311.5,104.4 L312.5,104.0 L313.5,103.7 L314.5,103.4 L315.5,103.0 L316.5,102.7 L317.5,102.3 L318.5,102.0 L319.5,101.6 L320.5,101.3 L321.5,101.0 L322.5,100.7 L323.5,100.4 L324.5,100.0 L325.5,99.6 L326.5,99.2 L327.5,98.8 L328.5,98.2 L329.5,97.7 L330.5,97.0 L331.5,96.4 L332.5,95.7 L333.5,95.0 L334.5,94.2 L335.5,93.5 L336.5,92.7 L337.5,91.9 L338.5,91.0 L339.5,90.1 L340.5,89.2 L341.5,88.2 L342.5,87.1 L343.5,86.0 L344.5,84.8 L345.5,83.6 L346.5,82.4 L347.5,81.2 L348.5,79.9 L349.5,78.6 L350.5,77.4 L351.5,76.1 L352.5,74.9 L353.5,73.6 L354.5,72.3 L355.5,71.1 L356.5,69.8" stroke="#000000" stroke-width="0.85" stroke-dasharray="1.7 1.4 1.7 2.8"/>
</g>
<g fill="none">
<path d="M96.5,174.5 L126,174.5" stroke="#ff0000" stroke-width="0.65"/>
<path d="M96.5,184.5 L126,184.5" stroke="#10f410" stroke-width="0.9" stroke-dasharray="3 1.5"/>
<path d="M96.5,194.6 L126,194.6" stroke="#3838ff" stroke-width="1.1" stroke-dasharray="1.45 2.4"/>
<path d="M96.5,205.5 L126,205.5" stroke="#ff00ff" stroke-width="0.65" stroke-dasharray="1 1.08" stroke-dashoffset="0.5"/>
<path d="M96.5,215.5 L126,215.5" stroke="#00f8f8" stroke-width="0.8" stroke-dasharray="4 1.4 1 1.1"/>
<path d="M96.5,226.1 L126,226.1" stroke="#000000" stroke-width="0.85" stroke-dasharray="1.7 1.4 1.7 2.8"/>
</g>
<path d="M135.5,235.5 v-4.5 M135.5,12.5 v4.5 M227.5,235.5 v-4.5 M227.5,12.5 v4.5 M319.5,235.5 v-4.5 M319.5,12.5 v4.5 M71.5,220.5 h4.5 M356.5,220.5 h-4.5 M71.5,168.5 h4.5 M356.5,168.5 h-4.5 M71.5,116.5 h4.5 M356.5,116.5 h-4.5 M71.5,64.5 h4.5 M356.5,64.5 h-4.5 M71.5,12.5 h4.5 M356.5,12.5 h-4.5" stroke="#000" stroke-width="0.9" fill="none"/>
<path d="M71.5,235.5 v-2.4 M71.5,12.5 v2.4 M87.5,235.5 v-2.4 M87.5,12.5 v2.4 M99.5,235.5 v-2.4 M99.5,12.5 v2.4 M108.5,235.5 v-2.4 M108.5,12.5 v2.4 M115.5,235.5 v-2.4 M115.5,12.5 v2.4 M121.5,235.5 v-2.4 M121.5,12.5 v2.4 M126.5,235.5 v-2.4 M126.5,12.5 v2.4 M131.5,235.5 v-2.4 M131.5,12.5 v2.4 M163.5,235.5 v-2.4 M163.5,12.5 v2.4 M179.5,235.5 v-2.4 M179.5,12.5 v2.4 M191.5,235.5 v-2.4 M191.5,12.5 v2.4 M200.5,235.5 v-2.4 M200.5,12.5 v2.4 M207.5,235.5 v-2.4 M207.5,12.5 v2.4 M213.5,235.5 v-2.4 M213.5,12.5 v2.4 M218.5,235.5 v-2.4 M218.5,12.5 v2.4 M223.5,235.5 v-2.4 M223.5,12.5 v2.4 M255.5,235.5 v-2.4 M255.5,12.5 v2.4 M271.5,235.5 v-2.4 M271.5,12.5 v2.4 M283.5,235.5 v-2.4 M283.5,12.5 v2.4 M292.5,235.5 v-2.4 M292.5,12.5 v2.4 M299.5,235.5 v-2.4 M299.5,12.5 v2.4 M305.5,235.5 v-2.4 M305.5,12.5 v2.4 M310.5,235.5 v-2.4 M310.5,12.5 v2.4 M315.5,235.5 v-2.4 M315.5,12.5 v2.4 M347.5,235.5 v-2.4 M347.5,12.5 v2.4" stroke="#000" stroke-width="0.65" fill="none"/>
<rect x="71.5" y="12.5" width="285.0" height="223.0" fill="none" stroke="#000" stroke-width="1"/>
<g font-family="Liberation Sans, sans-serif" font-size="10.3" fill="#000" stroke="#000" stroke-width="0.12">
<text x="65.2" y="225.3" text-anchor="end"><tspan letter-spacing="-0.4">10</tspan><tspan font-size="8.2" dy="-4.6">-9</tspan></text>
<text x="65.2" y="173.3" text-anchor="end"><tspan letter-spacing="-0.4">10</tspan><tspan font-size="8.2" dy="-4.6">-8</tspan></text>
<text x="65.2" y="121.3" text-anchor="end"><tspan letter-spacing="-0.4">10</tspan><tspan font-size="8.2" dy="-4.6">-7</tspan></text>
<text x="65.2" y="69.3" text-anchor="end"><tspan letter-spacing="-0.4">10</tspan><tspan font-size="8.2" dy="-4.6">-6</tspan></text>
<text x="65.2" y="17.3" text-anchor="end"><tspan letter-spacing="-0.4">10</tspan><tspan font-size="8.2" dy="-4.6">-5</tspan></text>
<text x="137.5" y="250" text-anchor="middle">10</text>
<text x="229.6" y="250" text-anchor="middle">100</text>
<text x="321.6" y="250" text-anchor="middle">1000</text>
<text x="213.9" y="265.8" text-anchor="middle">l</text>
<text x="200.1" y="224">BICEP+QUaD</text>
<text x="90.3" y="177.6" text-anchor="end">TT</text>
<text x="90.3" y="188.1" text-anchor="end">EE</text>
<text x="90.3" y="198.3" text-anchor="end">TE</text>
<text x="90.3" y="208.6" text-anchor="end">TB</text>
<text x="90.3" y="218.9" text-anchor="end">EB</text>
<text x="90.3" y="229.1" text-anchor="end">mv</text>
<g transform="translate(14.3,153) rotate(-90)"><text x="0" y="0">l(l+1)N</text><text x="32.1" y="2.8" font-size="6.6">l</text><text transform="translate(33.7,-4.9) scale(1,1.2)" font-size="7.7">dd</text><text x="42.6" y="0.5" font-size="9.6" letter-spacing="-0.6">/2π</text></g>
</g>
</svg>
</body></html>
